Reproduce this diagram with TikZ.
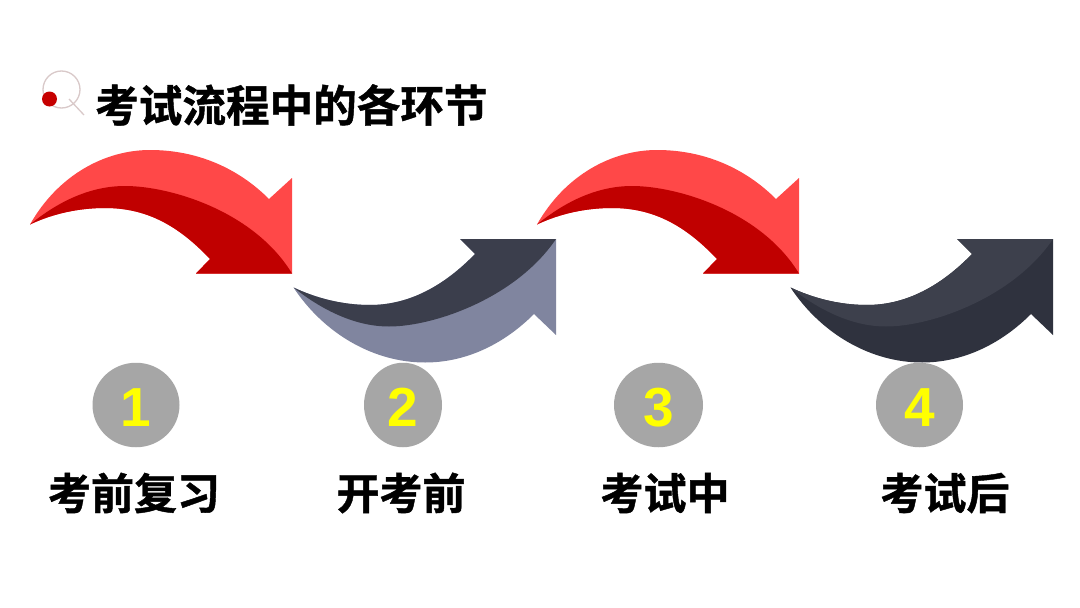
\documentclass[tikz,border=0pt]{standalone}
\usepackage{fontspec}
\usetikzlibrary{shapes.geometric}
\setmainfont{Liberation Sans}
\newfontfamily\cjk[FakeBold=1]{Noto Sans CJK SC Bold}
\definecolor{redlight}{HTML}{FF4848}
\definecolor{reddark}{HTML}{C00000}
\definecolor{slatelight}{HTML}{80859F}
\definecolor{slatedark}{HTML}{3B3E4C}
\definecolor{inklight}{HTML}{3D404C}
\definecolor{inkdark}{HTML}{2F323E}
\definecolor{disc}{HTML}{A6A6A6}
\definecolor{lens}{HTML}{D9C9C9}
\definecolor{numyellow}{HTML}{FFFF00}
\tikzset{
  numdisc/.style={ellipse,fill=disc,minimum height=84.5pt,inner sep=0pt,text=numyellow,text height=42pt,text depth=0pt,font=\fontsize{55}{55}\selectfont\bfseries},
  steplabel/.style={font=\cjk\fontsize{43}{43}\selectfont,text=black,inner sep=0pt},
  titletext/.style={font=\cjk\fontsize{43.6}{44}\selectfont,text=black,inner sep=0pt}
}
\newcommand{\downarrowshape}[3]{%
  \begin{scope}[shift={(#1,0)}]
    \fill[#2] (30,224.5) .. controls (58,175) and (105,150) .. (150,150)
      .. controls (197,150) and (238,168) .. (269,199) -- (292,178) -- (292,273.5) -- (196,273.5) -- (210,259)
      .. controls (177,224) and (145,208) .. (105,208) .. controls (78,208) and (52,214) .. (30,224.5) -- cycle;
    \fill[#3] (30,224.5) .. controls (60,200) and (92,186) .. (125,186)
      .. controls (170,186) and (254,211) .. (292,273.5) -- (196,273.5) -- (210,259)
      .. controls (177,224) and (145,208) .. (105,208) .. controls (78,208) and (52,214) .. (30,224.5) -- cycle;
  \end{scope}}
\newcommand{\uparrowshape}[3]{%
  \begin{scope}[shift={(#1,0)}]
    \fill[#2] (293.5,287.5) .. controls (325,335) and (375,362.5) .. (425,362.5)
      .. controls (465,362.5) and (503,345) .. (534,314) -- (556,335) -- (556,239) -- (460,239) -- (475,254)
      .. controls (445,285) and (410,305) .. (370,305) .. controls (342,305) and (316,298) .. (293.5,287.5) -- cycle;
    \fill[#3] (293.5,287.5) .. controls (322,310) and (355,326.5) .. (389,326.5)
      .. controls (434,326.5) and (516,298) .. (556,239) -- (460,239) -- (475,254)
      .. controls (445,285) and (410,305) .. (370,305) .. controls (342,305) and (316,298) .. (293.5,287.5) -- cycle;
  \end{scope}}
\begin{document}
\begin{tikzpicture}[x=1pt,y=-1pt]
\useasboundingbox[fill=white] (0,0) rectangle (1080,608);
% magnifier icon
\draw[lens,line width=1.3pt] (61.5,89.5) circle (18.5);
\draw[lens,line width=1.3pt] (69,99) -- (84,115);
\fill[reddark!90!red] (49.5,99) circle (7.5);
\node[titletext,anchor=west] (title) at (95,105) {考试流程中的各环节};
% arrows
\downarrowshape{0}{redlight}{reddark}
\uparrowshape{0}{slatelight}{slatedark}
\downarrowshape{507}{redlight}{reddark}
\uparrowshape{497}{inkdark}{inklight}
% numbers
\node[numdisc,minimum width=87pt] (n1) at (136,405) {1};
\node[numdisc,minimum width=78pt] (n2) at (403,405) {2};
\node[numdisc,minimum width=89pt] (n3) at (658.5,405) {3};
\node[numdisc,minimum width=87pt] (n4) at (919.5,405) {4};
% labels
\node[steplabel] (l1) at (134,493) {考前复习};
\node[steplabel] (l2) at (401,493) {开考前};
\node[steplabel] (l3) at (665,493) {考试中};
\node[steplabel] (l4) at (945,493) {考试后};
\end{tikzpicture}
\end{document}
